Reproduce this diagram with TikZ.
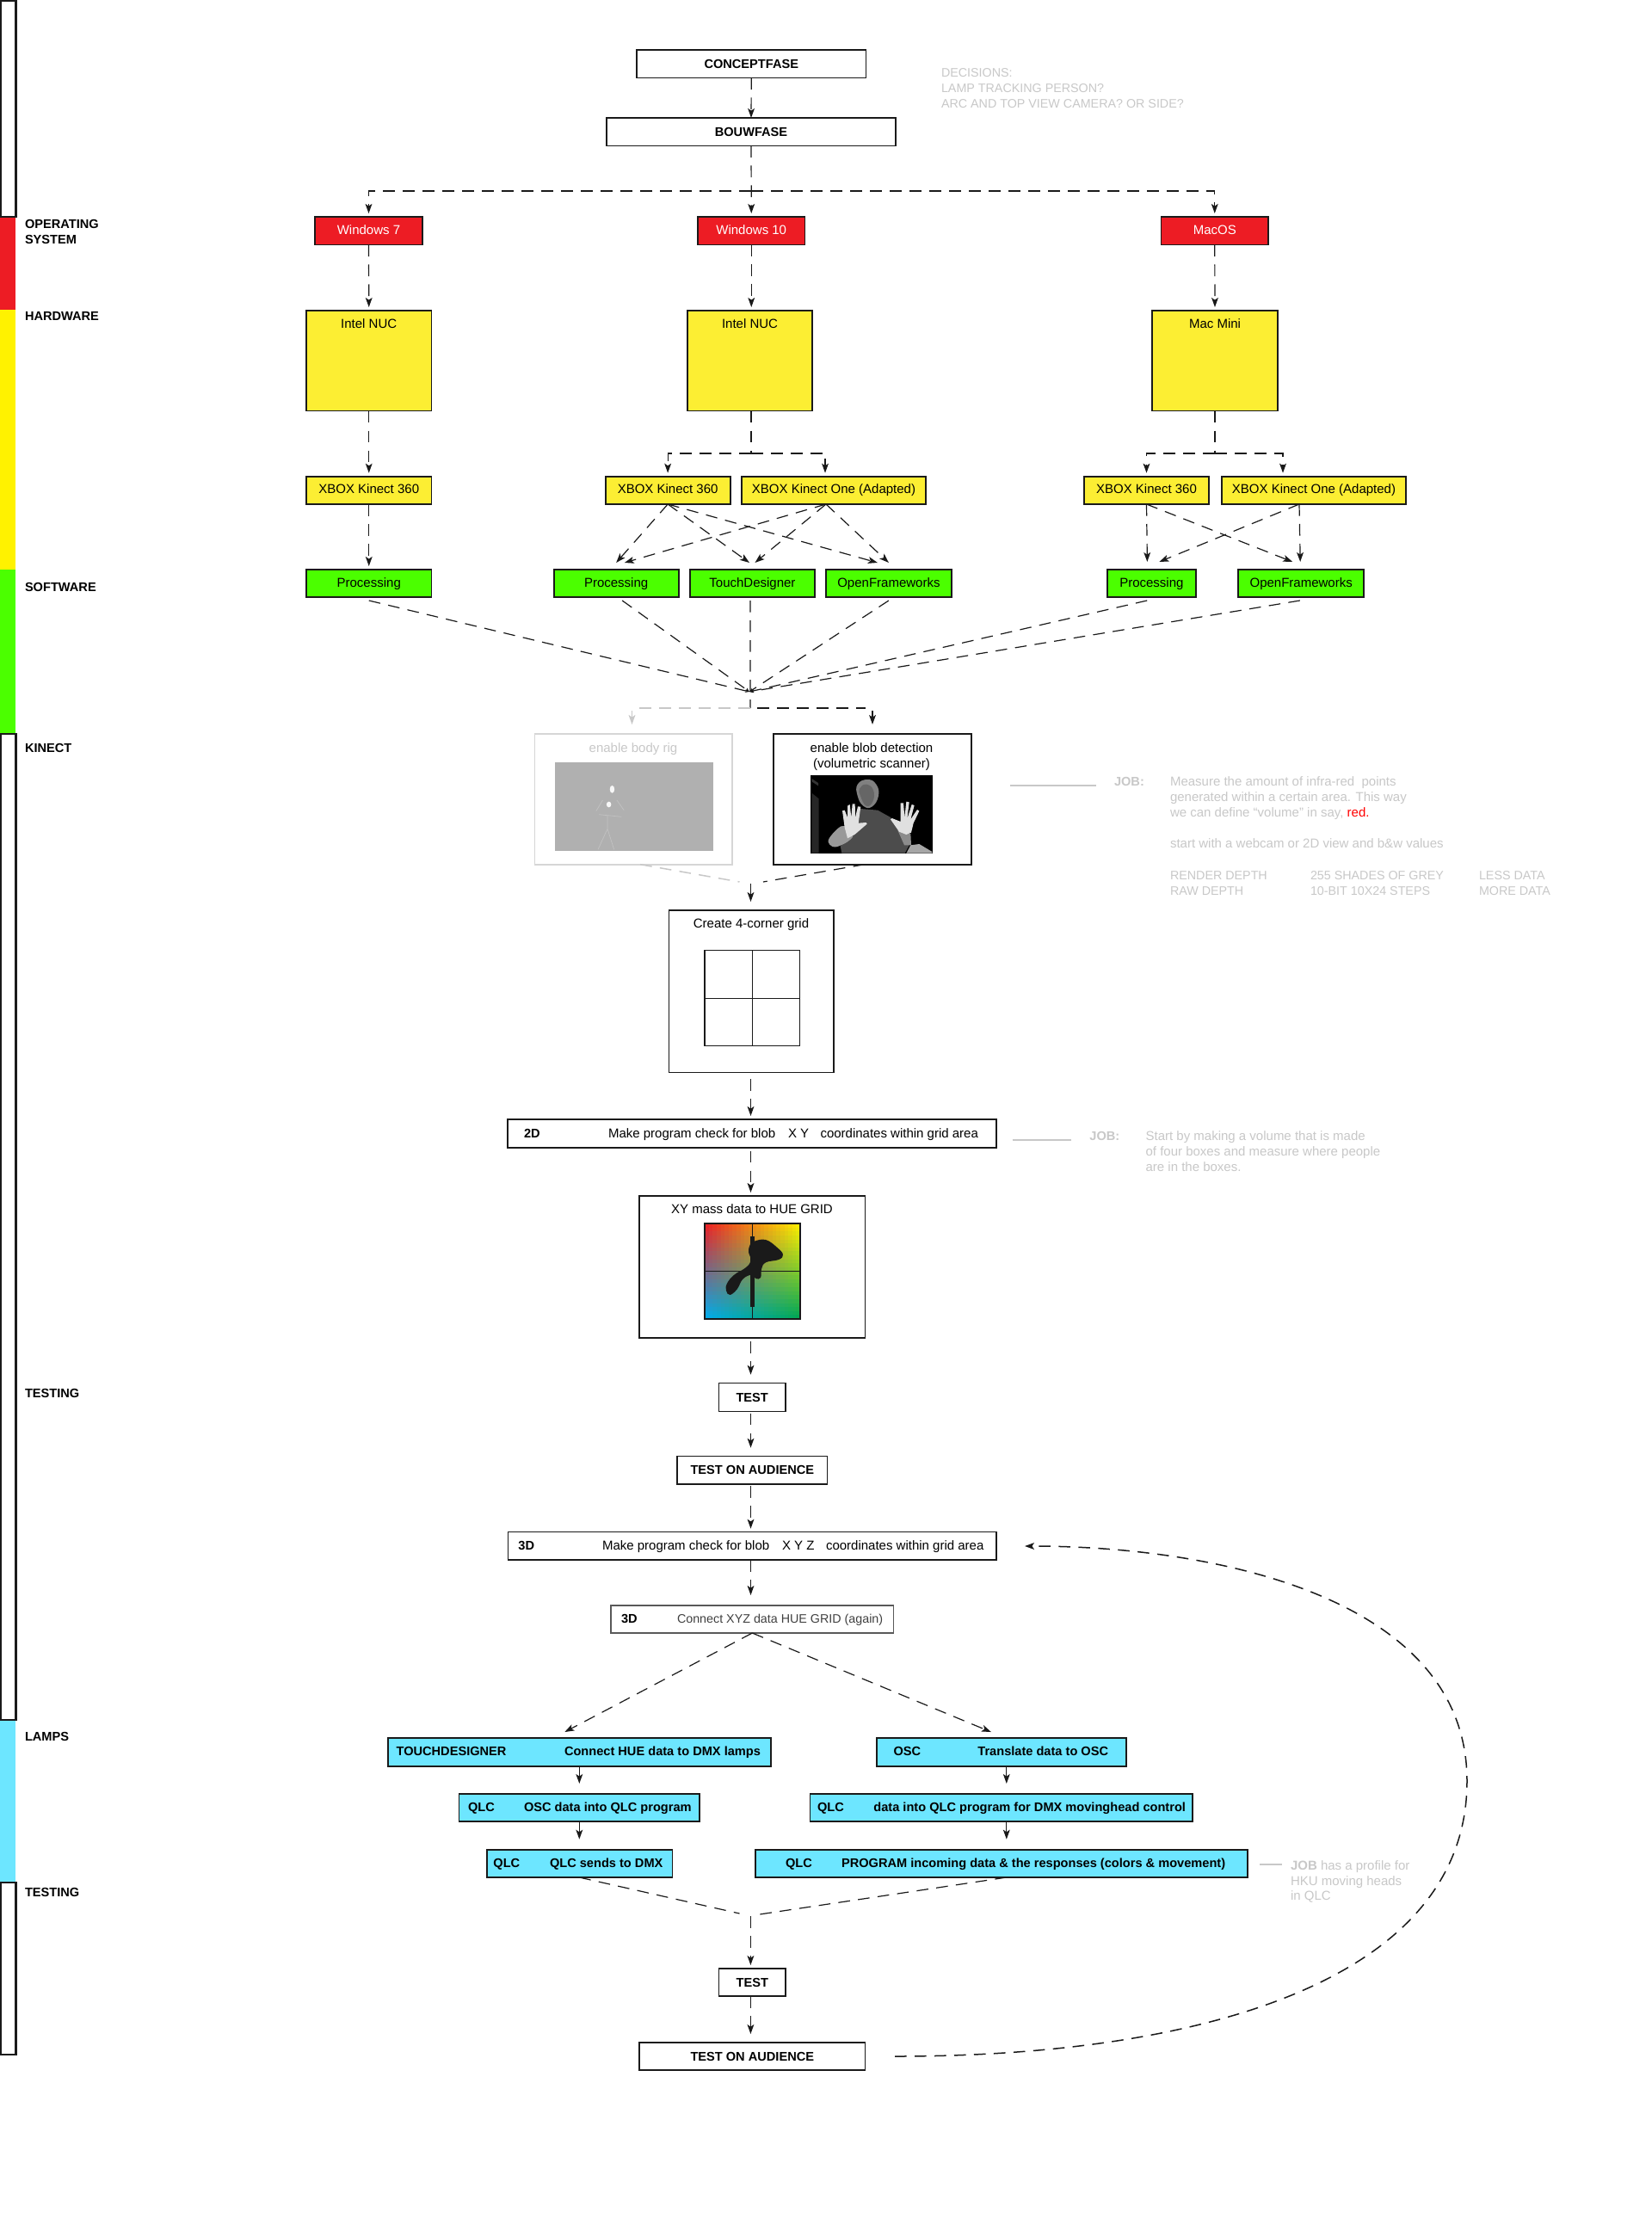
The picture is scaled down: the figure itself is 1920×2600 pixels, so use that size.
\documentclass[tikz,border=0pt]{standalone}
\usepackage{fontspec}
\setmainfont{Liberation Sans}
\usetikzlibrary{arrows.meta,calc}
\definecolor{cred}{HTML}{ED1C24}
\definecolor{cyel}{HTML}{FCEE33}
\definecolor{bary}{HTML}{FFF200}
\definecolor{cgrn}{HTML}{4BFF00}
\definecolor{ccya}{HTML}{6DE6FF}
\definecolor{ink}{HTML}{1A1A1A}
\definecolor{soft}{HTML}{C8C8C8}
\newcommand{\basefont}{\fontsize{7.5pt}{9pt}\selectfont}
\newcommand{\boldfont}{\fontsize{7.3pt}{9pt}\selectfont\bfseries}
\newcommand{\upperfont}{\fontsize{7.15pt}{9pt}\selectfont}
\tikzset{
  boxb/.style={draw=ink,line width=0.95pt,inner sep=0pt,outer sep=0pt,font=\basefont,text height=6.5pt,text depth=2.5pt,align=center},
  thinb/.style={line width=0.65pt},
  whiteb/.style={fill=white,font=\boldfont,text depth=1.5pt},
  redb/.style={fill=cred,text=white},
  yelb/.style={fill=cyel},
  grnb/.style={fill=cgrn},
  cyab/.style={fill=ccya,line width=0.85pt},
  txt/.style={anchor=west,inner sep=0pt,outer sep=0pt,font=\basefont,text height=6.5pt,text depth=1.5pt},
  btxt/.style={txt,font=\boldfont},
  gtxt/.style={txt,text=soft},
  utxt/.style={txt,text=soft,font=\upperfont},
  conn/.style={draw=ink,line width=0.6pt,dash pattern=on 6.8pt off 4.7pt,-{Stealth[length=5.5pt,width=3.9pt,inset=1.3pt]},shorten >=2pt},
  bare/.style={draw=ink,line width=0.6pt,dash pattern=on 6.8pt off 4.7pt},
  graybare/.style={draw=soft,line width=0.75pt,dash pattern=on 6.8pt off 4.7pt},
  merge/.style={draw=ink,line width=0.6pt,dash pattern=on 6.8pt off 4.7pt,-{Stealth[length=2.5pt,width=2pt]}},
  solidarrow/.style={draw=ink,line width=0.6pt,-{Stealth[length=5.5pt,width=3.9pt,inset=1.3pt]}},
  barline/.style={draw=ink,line width=1.25pt,fill=white},
  softline/.style={draw=soft,line width=0.9pt},
}
\newcommand{\bx}[7][]{%
  \pgfmathsetmacro\bxcx{(#3+#5)/2}\pgfmathsetmacro\bxcy{(#4+#6)/2}%
  \pgfmathsetmacro\bxw{abs(#5-#3)*0.5}\pgfmathsetmacro\bxh{abs(#6-#4)*0.5}%
  \node[boxb,#1,minimum width=\bxw pt,minimum height=\bxh pt] (#2) at (\bxcx,\bxcy) {#7};}
\newcommand{\tx}[5][txt]{\node[#1] (#2) at (#3,#4) {#5};}
\begin{document}
\begin{tikzpicture}[x=0.5pt,y=-0.5pt]
\useasboundingbox (0,0) rectangle (1920,2600);
\fill[white] (0,0) rectangle (1920,2600);
% side bar
\fill[cred] (0,252) rectangle (18,360);
\fill[bary] (0,360) rectangle (18,662);
\fill[cgrn] (0,662) rectangle (18,853);
\fill[ccya] (0,1999) rectangle (18,2188);
\draw[barline] (1,1) rectangle (18.5,252);
\draw[barline] (1,853) rectangle (18.5,1999);
\draw[barline] (1,2188) rectangle (18.5,2388);
\tx[btxt]{lOS}{29}{260.5}{OPERATING}
\tx[btxt]{lOSb}{29}{278.5}{SYSTEM}
\tx[btxt]{lHW}{29}{367.5}{HARDWARE}
\tx[btxt]{lSW}{29}{682}{SOFTWARE}
\tx[btxt]{lKI}{29}{869}{KINECT}
\tx[btxt]{lTE}{29}{1619}{TESTING}
\tx[btxt]{lLA}{29}{2018.5}{LAMPS}
\tx[btxt]{lTEb}{29}{2199}{TESTING}
% top
\bx[whiteb]{concept}{740}{58}{1006.5}{90.5}{CONCEPTFASE}
\bx[whiteb]{bouw}{705}{137}{1041}{169.5}{BOUWFASE}
\tx[utxt]{dec1}{1094}{85}{DECISIONS:}
\tx[utxt]{dec2}{1094}{103}{LAMP TRACKING PERSON?}
\tx[utxt]{dec3}{1094}{121}{ARC AND TOP VIEW CAMERA? OR SIDE?}
% OS
\bx[redb]{win7}{366}{252}{491}{284.5}{Windows 7}
\bx[redb]{win10}{811}{252}{935.5}{284.5}{Windows 10}
\bx[redb]{mac}{1349.5}{252}{1474}{284.5}{MacOS}
% hardware
\bx[yelb]{nuc1}{356}{361}{501.5}{477.5}{}
\bx[yelb]{nuc2}{799}{361}{944}{477.5}{}
\bx[yelb]{mini}{1339}{361}{1485}{477.5}{}
\tx[txt,anchor=center]{tnuc1}{428.7}{376}{Intel NUC}
\tx[txt,anchor=center]{tnuc2}{871.5}{376}{Intel NUC}
\tx[txt,anchor=center]{tmini}{1412}{376}{Mac Mini}
\bx[yelb]{xb1}{356}{553.7}{501.5}{586}{XBOX Kinect 360}
\bx[yelb]{xb2}{703.6}{553.7}{848.7}{586}{XBOX Kinect 360}
\bx[yelb]{xo2}{862}{553.7}{1076}{586}{XBOX Kinect One (Adapted)}
\bx[yelb]{xb3}{1260}{553.7}{1405}{586}{XBOX Kinect 360}
\bx[yelb]{xo3}{1420}{553.7}{1634}{586}{XBOX Kinect One (Adapted)}
% software
\bx[grnb]{p1}{356}{662}{501.5}{694}{Processing}
\bx[grnb]{p2}{643.6}{662}{788.7}{694}{Processing}
\bx[grnb]{td}{801.6}{662}{947.3}{694}{TouchDesigner}
\bx[grnb]{of2}{960}{662}{1105.8}{694}{OpenFrameworks}
\bx[grnb]{p3}{1286.7}{662}{1390}{694}{Processing}
\bx[grnb]{of3}{1439.4}{662}{1585}{694}{OpenFrameworks}
% kinect images
\bx[draw=black!16,fill=white,line width=0.9pt]{body}{621.4}{853}{851}{1004.7}{}
\bx[fill=white,line width=1.1pt]{blob}{899}{853}{1129}{1004.7}{}
\tx[txt,anchor=center,text=soft]{tbody}{736}{869}{enable body rig}
\tx[txt,anchor=center]{tblob1}{1013}{869}{enable blob detection}
\tx[txt,anchor=center]{tblob2}{1013}{887}{(volumetric scanner)}
\begin{scope}[shift={(300,640)},x=0.2743pt,y=-0.16667pt]
  % grey rig picture
  \fill[black!31] (628,737) rectangle (964,1046);
  \draw[black!24,line width=0.35pt] (740,925)--(740,970)--(720,1042) (740,970)--(754,1042)
     (722,920)--(770,928) (730,870)--(716,908) (760,870)--(775,905);
  \fill[black!3] (750,832) ellipse (5 and 13);
  \fill[black!3] (743,885) ellipse (5 and 10);
\end{scope}
\begin{scope}[shift={(935,895)},x=0.16667pt,y=-0.16667pt]
  % blob picture
  \fill[black] (22,17) rectangle (447,290);
  \fill[black!85] (25,80) -- (50,100) -- (50,290) -- (25,290) -- cycle;
  \fill[black!80] (25,30) -- (48,45) -- (48,55) -- (25,40) -- cycle;
  \fill[black!70] (130,290) -- (125,265) -- (170,230) -- (195,135) -- (255,140) -- (300,165) -- (335,215) -- (365,262) -- (350,290) -- cycle;
  \fill[black!50] plot[smooth cycle,tension=0.8] coordinates {(220,33) (250,50) (258,90) (235,128) (205,125) (185,90) (185,50)};
  \fill[black!60] plot[smooth cycle,tension=0.8] coordinates {(215,50) (240,70) (238,110) (215,125) (195,90) (192,65)};
  \fill[black!40] plot[smooth cycle,tension=0.6] coordinates {(85,240) (115,205) (140,195) (170,225) (150,250) (110,268) (88,260)};
  \fill[black!45] (325,210) -- (370,222) -- (372,262) -- (348,262) -- cycle;
  \fill[black!35] (355,290) -- (370,262) -- (400,258) -- (445,285) -- (445,290) -- cycle;
  \fill[black!12,line join=round] (132,142) -- (140,140) -- (150,165) -- (150,125) -- (158,120) -- (163,165) -- (167,118) -- (176,118) -- (177,165) -- (186,127) -- (196,128) -- (188,185) -- (215,183) -- (218,188) -- (175,225) -- (150,238) -- (140,200) -- cycle;
  \fill[black!12,line join=round] (400,143) -- (393,138) -- (370,172) -- (383,123) -- (374,120) -- (358,170) -- (365,112) -- (355,110) -- (349,165) -- (345,115) -- (335,115) -- (335,180) -- (305,168) -- (300,172) -- (330,215) -- (355,225) -- (372,218) -- (380,185) -- cycle;
\end{scope}
% grid
\bx[fill=white,thinb]{gridb}{777.5}{1058}{969}{1246.4}{}
\tx[txt,anchor=center]{tgrid}{873}{1073}{Create 4-corner grid}
\bx[fill=white,thinb]{grid}{819}{1104.6}{929.7}{1215.7}{}
\draw[draw=ink,line width=0.65pt] (grid.north) -- (grid.south) (grid.west) -- (grid.east);
\bx[fill=white]{bd2}{590}{1301}{1158}{1333.6}{}
\tx[btxt]{t2d}{609}{1317}{2D}
\tx{t2da}{707}{1317}{Make program check for blob}
\tx{t2db}{916}{1317}{X Y}
\tx{t2dc}{953.5}{1317}{coordinates within grid area}
\tx[gtxt,font=\boldfont]{j2}{1266.4}{1320}{JOB:}
\tx[gtxt]{j2a}{1331.6}{1320}{Start by making a volume that is made}
\tx[gtxt]{j2b}{1331.6}{1338}{of four boxes and measure where people}
\tx[gtxt]{j2c}{1331.6}{1356}{are in the boxes.}
\coordinate (s2) at (1176.6,1325);
\draw[softline] (s2) -- (1245,1325);
% hue
\bx[fill=white,thinb]{xy}{743}{1390}{1005.5}{1555}{}
\tx[txt,anchor=center]{txy}{874}{1405}{XY mass data to HUE GRID}
\foreach \i in {0,...,23}{\foreach \j in {0,...,23}{
  \pgfmathsetmacro\uu{(\i+0.5)/24}\pgfmathsetmacro\vv{(\j+0.5)/24}
  \pgfmathsetmacro\hr{(1-\uu)*(1-\vv)*0.93+\uu*(1-\vv)*1.0}
  \pgfmathsetmacro\hg{(1-\uu)*(1-\vv)*0.11+\uu*(1-\vv)*0.95+(1-\uu)*\vv*0.68+\uu*\vv*0.65}
  \pgfmathsetmacro\hb{(1-\uu)*(1-\vv)*0.14+\uu*(1-\vv)*0.0+(1-\uu)*\vv*0.94+\uu*\vv*0.32}
  \definecolor{hc}{rgb}{\hr,\hg,\hb}
  \fill[hc] (819+\i*4.625,1422+\j*4.625) rectangle +(5,5);
}}
\bx[fill=none,line width=0.75pt]{hue}{819}{1422}{930}{1533}{}
\draw[draw=ink,line width=0.65pt] (hue.north) -- (hue.south) (hue.west) -- (hue.east);
\fill[ink] (871.7,1436.7) rectangle (877,1518.7);
\fill[ink] plot[smooth cycle,tension=0.7] coordinates {(876.7,1442.7) (890,1441) (903.3,1450) (910,1458.3) (905,1464) (890,1467.3) (885,1475) (884,1485) (878.3,1486) (873.3,1481.7) (863.3,1486.7) (856.7,1498.3) (848.3,1505) (844,1500) (845,1491.7) (853.3,1481.7) (866.7,1473.3) (872.7,1465) (870,1455) (871.7,1446.7)};
% job 1
\coordinate (s1) at (1174,913);
\draw[softline] (s1) -- (1274,913);
\tx[gtxt,font=\boldfont]{j1}{1295}{908}{JOB:}
\tx[gtxt]{j1a}{1360}{908}{Measure the amount of infra-red\ \ points}
\tx[gtxt]{j1b}{1360}{926}{generated within a certain area. This way}
\tx[gtxt]{j1c}{1360}{944}{we can define “volume” in say, \textcolor{red}{red.}}
\tx[gtxt]{j1d}{1360}{980}{start with a webcam or 2D view and b\&w values}
\tx[utxt]{j1e}{1360}{1017}{RENDER DEPTH}
\tx[utxt]{j1f}{1360}{1035}{RAW DEPTH}
\tx[utxt]{j1g}{1523}{1017}{255 SHADES OF GREY}
\tx[utxt]{j1h}{1523}{1035}{10-BIT 10X24 STEPS}
\tx[utxt]{j1i}{1719}{1017}{LESS DATA}
\tx[utxt]{j1j}{1719}{1035}{MORE DATA}
% testing
\bx[whiteb,thinb]{test1}{835.3}{1607.7}{913}{1640.7}{TEST}
\bx[whiteb,thinb]{aud1}{787}{1692.7}{961.7}{1725}{TEST ON AUDIENCE}
\bx[fill=white,thinb]{d3a}{590.8}{1780.7}{1158}{1813}{}
\tx[btxt]{t3a}{602.4}{1796}{3D}
\tx{t3aa}{700}{1796}{Make program check for blob}
\tx{t3ab}{909}{1796}{X Y Z}
\tx{t3ac}{960}{1796}{coordinates within grid area}
\bx[fill=white,draw=black!65,thinb]{d3b}{710}{1866}{1038.6}{1898}{}
\tx[btxt]{t3b}{722}{1881}{3D}
\tx[txt,text=black!75,font=\upperfont]{t3ba}{787}{1881}{Connect XYZ data HUE GRID (again)}
% lamps
\bx[cyab]{tdx}{450.7}{2020}{896}{2052.7}{}
\tx[btxt]{tx1}{460.6}{2035}{TOUCHDESIGNER}
\tx[btxt]{tx1a}{656}{2035}{Connect HUE data to DMX lamps}
\bx[cyab]{osc}{1018.7}{2020}{1309}{2052.7}{}
\tx[btxt]{tx2}{1038.6}{2035}{OSC}
\tx[btxt]{tx2a}{1136.4}{2035}{Translate data to OSC}
\bx[cyab]{q1}{533.6}{2085}{813}{2117}{}
\tx[btxt]{tq1}{544}{2100}{QLC}
\tx[btxt]{tq1a}{609}{2100}{OSC data into QLC program}
\bx[cyab]{q2}{941.6}{2085}{1386}{2117}{}
\tx[btxt]{tq2}{950}{2100}{QLC}
\tx[btxt]{tq2a}{1015.4}{2100}{data into QLC program for DMX movinghead control}
\bx[cyab]{q3}{566}{2149.7}{781.5}{2182}{}
\tx[btxt]{tq3}{573.4}{2165}{QLC}
\tx[btxt]{tq3a}{639}{2165}{QLC sends to DMX}
\bx[cyab]{q4}{877.7}{2149.7}{1450}{2182}{}
\tx[btxt]{tq4}{913}{2165}{QLC}
\tx[btxt]{tq4a}{978}{2165}{PROGRAM incoming data \& the responses (colors \& movement)}
\coordinate (s3) at (1464,2167);
\draw[softline] (s3) -- (1490,2167);
\node[gtxt] (j3) at (1500,2168) {\textbf{JOB} has a profile for};
\tx[gtxt]{j3b}{1500}{2186}{HKU moving heads}
\tx[gtxt]{j3c}{1500}{2203}{in QLC}
\bx[whiteb,thinb]{test2}{835.7}{2288}{913}{2320}{TEST}
\bx[whiteb,thinb]{aud2}{743}{2374}{1005.6}{2406}{TEST ON AUDIENCE}
% ---------- connectors
\coordinate (jt) at (873,222);
\draw[conn,shorten >=0pt] (concept.south) -- (bouw.north);
\draw[conn] (bouw.south) -- (win10.north);
\draw[conn] (jt) -| (win7.north);
\draw[conn] (jt) -| (mac.north);
\draw[conn] (win7.south) -- (nuc1.north);
\draw[conn] (win10.south) -- (nuc2.north -| win10.south);
\draw[conn] (mac.south) -- (mini.north);
\draw[conn] (nuc1.south) -- (xb1.north);
\draw[conn] (xb1.south) -- (p1.north);
\coordinate (jn) at (873,527);
\draw[bare] (nuc2.south -| jn) -- (jn);
\draw[conn] (jn) -| (xb2.north);
\draw[conn] (jn) -| ([xshift=-5pt]xo2.north);
\coordinate (jm) at (1412,527);
\draw[bare] (mini.south) -- (jm);
\draw[conn] (jm) -| (xb3.north);
\draw[conn] (jm) -| ([xshift=-18pt]xo3.north);
% crossings
\draw[conn,shorten >=0pt] (xb2.south) -- ([yshift=4pt]p2.north);
\draw[conn,shorten >=0pt] (xb2.south) -- ([xshift=-1.75pt,yshift=4pt]td.north);
\draw[conn,shorten >=0pt] (xb2.south) -- ([xshift=-6.5pt,yshift=4pt]of2.north);
\draw[conn,shorten >=0pt] ([xshift=-4.5pt]xo2.south) -- ([xshift=4.85pt,yshift=4pt]p2.north);
\draw[conn,shorten >=0pt] ([xshift=-4.5pt]xo2.south) -- ([xshift=1.5pt,yshift=4pt]td.north);
\draw[conn,shorten >=0pt] ([xshift=-4.5pt]xo2.south) -- ([yshift=4pt]of2.north);
\draw[conn,shorten >=0pt] (xb3.south) -- ([xshift=-2.5pt,yshift=4.5pt]p3.north);
\draw[conn,shorten >=0pt] (xb3.south) -- ([xshift=-5pt,yshift=4.5pt]of3.north);
\draw[conn,shorten >=0pt] ([xshift=-8.5pt]xo3.south) -- ([xshift=-0.5pt,yshift=4.5pt]of3.north);
\draw[conn,shorten >=0pt] ([xshift=-8.5pt]xo3.south) -- ([xshift=4.5pt,yshift=4.5pt]p3.north);
% merge into one
\coordinate (mg) at (871,804);
\coordinate (mv) at (872,823);
\draw[merge] ([yshift=-2pt]p1.south) -- (mg);
\draw[merge] ([xshift=3.5pt,yshift=-2pt]p2.south) -- (mg);
\draw[merge] ([yshift=-2pt]of2.south) -- (mg);
\draw[merge] ([xshift=-2.6pt,yshift=-2pt]p3.south) -- (mg);
\draw[merge] ([xshift=-0.7pt,yshift=-2pt]of3.south) -- (mg);
\draw[bare] ([xshift=-1.25pt,yshift=-2pt]td.south) -- (mv);
\coordinate (hg) at (741,823);
\coordinate (hb) at (880,823);
\coordinate (hbe) at (1006,823);
\coordinate (ag) at (734.5,826);
\coordinate (ab) at (1014,826);
\draw[graybare] (mv) -- (hg);
\draw[bare,line width=0.75pt] (hb) -- (hbe);
\draw[solidarrow,draw=soft,shorten >=5.5pt] (ag) -- (body.north -| ag);
\draw[solidarrow,shorten >=5.5pt] (ab) -- (blob.north);
% kinect -> grid
\coordinate (kl) at (859.5,1025);
\coordinate (kr) at (887,1025);
\coordinate (kd) at (872.5,1027);
\draw[graybare] ([xshift=4pt]body.south) -- (kl);
\draw[bare] ([xshift=-4.5pt]blob.south) -- (kr);
\draw[conn,shorten >=5pt] (kd) -- (gridb.north -| kd);
% vertical flow
\draw[conn,shorten <=4pt] (gridb.south -| kd) -- (bd2.north -| kd);
\draw[conn,shorten <=2pt] (bd2.south -| kd) -- (xy.north -| kd);
\draw[conn,shorten <=2pt,shorten >=5pt] (xy.south -| kd) -- (test1.north -| kd);
\draw[conn,shorten <=1pt,shorten >=5pt] (test1.south -| kd) -- (aud1.north -| kd);
\draw[conn,shorten <=1pt] (aud1.south -| kd) -- (d3a.north -| kd);
\draw[conn,shorten >=6pt] (d3a.south -| kd) -- (d3b.north -| kd);
\draw[conn,shorten >=0pt] (d3b.south) -- ([xshift=-8.5pt,yshift=3.5pt]tdx.north);
\draw[conn,shorten >=0pt] (d3b.south) -- ([xshift=-6pt,yshift=3.5pt]osc.north);
\draw[solidarrow,shorten >=6pt] (q1.north |- tdx.south) -- (q1.north);
\draw[solidarrow,shorten >=6pt] (q1.south) -- (q1.south |- q3.north);
\draw[solidarrow,shorten >=6pt] ([xshift=3pt]q2.north |- osc.south) -- ([xshift=3pt]q2.north);
\draw[solidarrow,shorten >=6pt] ([xshift=3pt]q2.south) -- ([xshift=3pt]q2.south |- q4.north);
\coordinate (ml) at (859.5,2224);
\coordinate (mr) at (876,2226);
\coordinate (md) at (872.4,2227);
\draw[bare] (q1.south |- q3.south) -- (ml);
\draw[bare] ([xshift=3pt]q2.south |- q4.south) -- (mr);
\draw[conn] (md) -- (test2.north -| md);
\draw[conn,shorten >=5pt] (test2.south -| md) -- (aud2.north -| md);
% return curve
\coordinate (cs) at (1040,2390);
\coordinate (ce) at (1191,1797);
\draw[conn,shorten >=0pt,line width=0.75pt] (cs) .. controls (1400,2390) and (1705,2300) .. (1705,2070) .. controls (1705,1860) and (1420,1797) .. (ce);
\end{tikzpicture}
\end{document}
